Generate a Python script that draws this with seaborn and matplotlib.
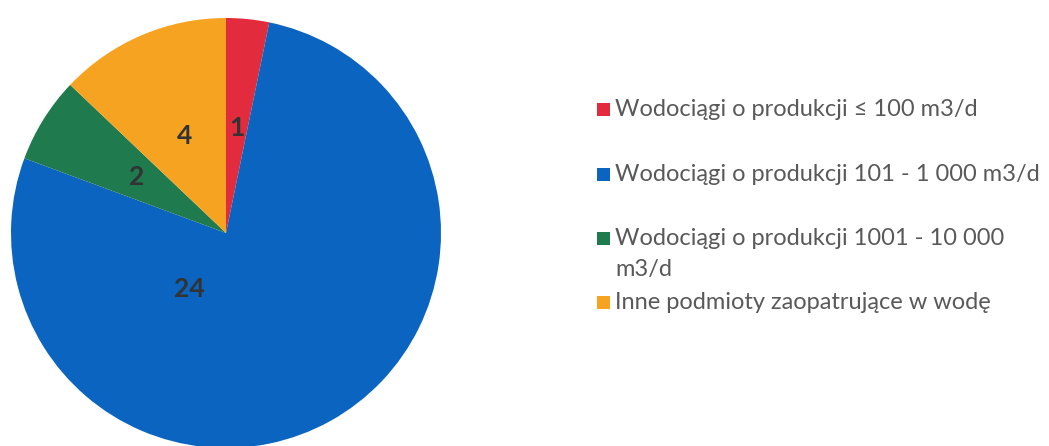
import matplotlib
matplotlib.use("Agg")
import matplotlib.pyplot as plt
import seaborn as sns
import numpy as np
from matplotlib.patches import Rectangle

sns.set_theme(style="white")
plt.rcParams['font.family'] = ['Lato', 'DejaVu Sans']

categories = [
    "Wodociągi o produkcji ≤ 100 m3/d",
    "Wodociągi o produkcji 101 - 1 000 m3/d",
    "Wodociągi o produkcji 1001 - 10 000\nm3/d",
    "Inne podmioty zaopatrujące w wodę",
]
values = [1, 24, 2, 4]
colors = ["#E22B3C", "#0A64C0", "#1F7A4D", "#F7A322"]

W, H = 1049, 446
fig = plt.figure(figsize=(W / 100, H / 100), dpi=100)
fig.patch.set_facecolor("white")

cx, cy, r = 226, 233, 215
ax = fig.add_axes([(cx - r) / W, (H - cy - r) / H, 2 * r / W, 2 * r / H])
wedges, _ = ax.pie(values, colors=colors, startangle=90, counterclock=False,
                   radius=1, wedgeprops=dict(linewidth=0))
ax.set_xlim(-1, 1)
ax.set_ylim(-1, 1)
ax.set_aspect("equal")
ax.axis("off")

# data labels
total = sum(values)
start = 90.0
label_pos = []
for v in values:
    span = 360.0 * v / total
    mid = np.deg2rad(start - span / 2)
    label_pos.append((0.49 * np.cos(mid), 0.49 * np.sin(mid)))
    start -= span
label_pos[1] = (-0.17, -0.26)
for (x, y), v in zip(label_pos, values):
    ax.text(x, y, str(v), ha="center", va="center", fontsize=19,
            fontweight="bold", color="#333333")

# legend
txt_color = "#595959"
fs = 17
baselines = [[116], [181], [245, 276], [309]]
x_sq, x_txt, sq = 597, 615, 13
for cat, col, bl in zip(categories, colors, baselines):
    lines = cat.split("\n")
    fig.add_artist(Rectangle((x_sq / W, (H - bl[0]) / H), sq / W, sq / H,
                             transform=fig.transFigure, facecolor=col,
                             edgecolor="none"))
    for line, b in zip(lines, bl):
        fig.text(x_txt / W, (H - b) / H, line, fontsize=fs, color=txt_color,
                 va="baseline", ha="left")

fig.savefig("out.png", dpi=100, facecolor="white")
